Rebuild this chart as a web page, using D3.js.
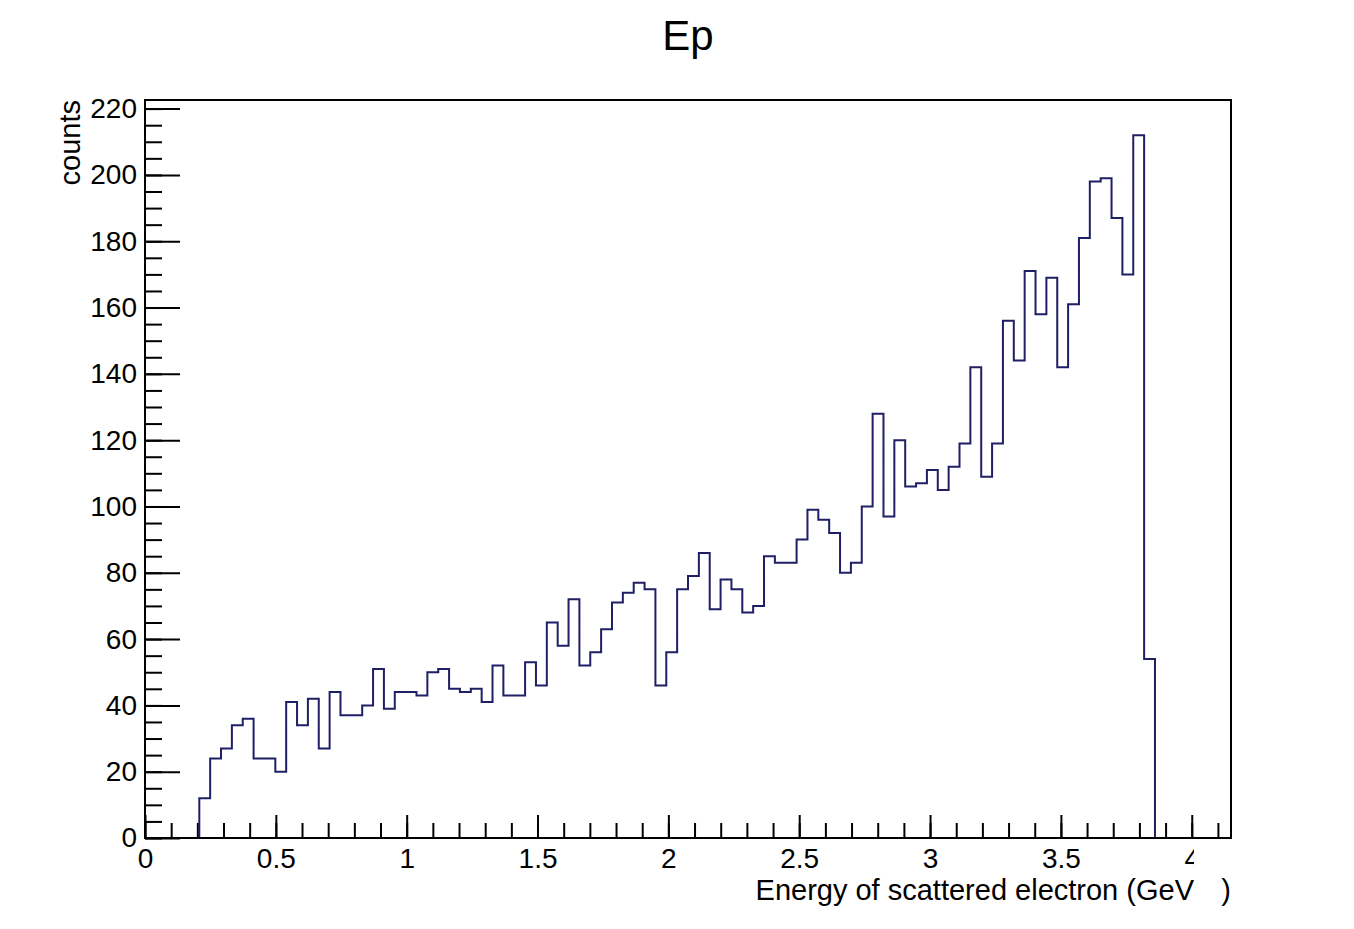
<!DOCTYPE html>
<html>
    <head>
        <meta charset="utf-8">
        <title>Ep</title>
        <script src="https://d3js.org/d3.v7.min.js"></script>
        <style>
            body { margin: 0; background: #fff; }
            text { font-family: "Liberation Sans", Arial, Helvetica, sans-serif; }
        </style>
    </head>
    <body>
        <script>
            // histogram binning (100 bins over 0 - 4.15)
            var nBins = 100;
            var xMin = 0, xMax = 4.15;
            var firstBin = 5; // bins 0-4 are empty
            // counts for bins 5 .. 92
            var counts = [12, 24, 27, 34, 36, 24, 24, 20, 41, 34,
                          42, 27, 44, 37, 37, 40, 51, 39, 44, 44,
                          43, 50, 51, 45, 44, 45, 41, 52, 43, 43,
                          53, 46, 65, 58, 72, 52, 56, 63, 71, 74,
                          77, 75, 46, 56, 75, 79, 86, 69, 78, 75,
                          68, 70, 85, 83, 83, 90, 99, 96, 92, 80,
                          83, 100, 128, 97, 120, 106, 107, 111, 105, 112,
                          119, 142, 109, 119, 156, 144, 171, 158, 169, 142,
                          161, 181, 198, 199, 187, 170, 212, 54];
            var xTicks = [0, 0.5, 1, 1.5, 2, 2.5, 3, 3.5, 4];
            var yTicks = [0, 20, 40, 60, 80, 100, 120, 140, 160, 180, 200, 220];
            var yMax = 222.6;

            var w = 1354, h = 929;
            // frame edges (note: "top" is taken by window.top)
            var fLeft = 145, fRight = 1231, fTop = 100, fBottom = 838;

            var svg = d3.select("body").append("svg")
                .attr("width", w)
                .attr("height", h);

            svg.append("rect").attr("width", w).attr("height", h).attr("fill", "#fff");

            var x = d3.scaleLinear().domain([xMin, xMax]).range([fLeft, fRight]);
            var y = d3.scaleLinear().domain([0, yMax]).range([fBottom, fTop]);
            var binW = (xMax - xMin) / nBins;

            // minor ticks
            svg.append("g")
                .attr("transform", "translate(0," + fBottom + ")")
                .call(d3.axisBottom(x).tickValues(d3.range(0, 4.15, 0.1)).tickSize(-15).tickFormat(""));
            svg.append("g")
                .attr("transform", "translate(" + fLeft + ",0)")
                .call(d3.axisLeft(y).tickValues(d3.range(0, 221, 5)).tickSize(-17).tickFormat(""));

            // major ticks + labels
            svg.append("g")
                .attr("transform", "translate(0," + fBottom + ")")
                .call(d3.axisBottom(x).tickValues(xTicks).tickSize(-23).tickPadding(10).tickFormat(function(d) { return d; }));
            svg.append("g")
                .attr("transform", "translate(" + fLeft + ",0)")
                .call(d3.axisLeft(y).tickValues(yTicks).tickSize(-35).tickPadding(8));

            svg.selectAll(".domain").remove();
            svg.selectAll(".tick line").attr("stroke", "#000").attr("stroke-width", 2);
            svg.selectAll(".tick text")
                .attr("fill", "#000")
                .attr("font-size", 28)
                .attr("font-family", "Liberation Sans, Arial, sans-serif");

            // histogram outline
            var pts = [[x(firstBin * binW), y(0)]];
            counts.forEach(function(c, i) {
                var k = firstBin + i;
                pts.push([x(k * binW), y(c)]);
                pts.push([x((k + 1) * binW), y(c)]);
            });
            pts.push([x((firstBin + counts.length) * binW), y(0)]);

            svg.append("path")
                .attr("d", d3.line()(pts))
                .attr("fill", "none")
                .attr("stroke", "#1f1f66")
                .attr("stroke-width", 2);

            // frame
            svg.append("rect")
                .attr("x", fLeft).attr("y", fTop)
                .attr("width", fRight - fLeft).attr("height", fBottom - fTop)
                .attr("fill", "none")
                .attr("stroke", "#000")
                .attr("stroke-width", 2);

            // blank patch near the end of the x axis
            svg.append("rect")
                .attr("x", 1194).attr("y", 841)
                .attr("width", 20).attr("height", 84)
                .attr("fill", "#fff");

            // titles
            svg.append("text")
                .attr("x", 688).attr("y", 50)
                .attr("text-anchor", "middle")
                .attr("font-size", 42)
                .text("Ep");

            var xt = svg.append("text")
                .attr("y", 900)
                .attr("font-size", 29);
            xt.append("tspan").attr("x", 1194).attr("text-anchor", "end").text("Energy of scattered electron (GeV");
            xt.append("tspan").attr("x", 1231).attr("text-anchor", "end").text(")");

            svg.append("text")
                .attr("transform", "translate(80," + fTop + ") rotate(-90)")
                .attr("text-anchor", "end")
                .attr("font-size", 29)
                .text("counts");
        </script>
    </body>
</html>
